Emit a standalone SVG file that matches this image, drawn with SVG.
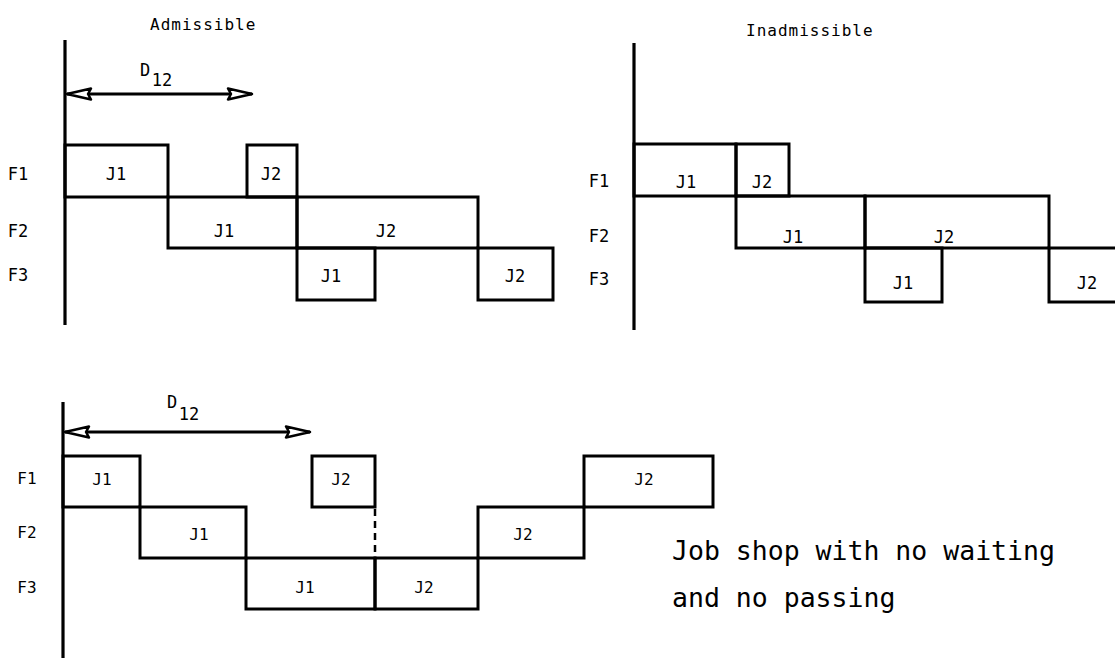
<svg xmlns="http://www.w3.org/2000/svg" width="1115" height="658" viewBox="0 0 1115 658">
<style>
.bar{fill:none;stroke:#000;stroke-width:3;stroke-linejoin:miter}
.axis{stroke:#000;stroke-width:3.2;fill:none}
.t{font-family:"DejaVu Sans Mono","Liberation Mono",monospace;font-size:17px;fill:#000;text-anchor:middle}
.ts{font-family:"DejaVu Sans Mono","Liberation Mono",monospace;font-size:16px;fill:#000;text-anchor:middle}
.ttl{font-family:"DejaVu Sans Mono","Liberation Mono",monospace;font-size:16px;letter-spacing:1px;fill:#000}
.big{font-family:"DejaVu Sans Mono","Liberation Mono",monospace;font-size:26.5px;fill:#000}
.arrow{stroke:#000;stroke-width:3;fill:none}
.dash{stroke:#000;stroke-width:2.5;stroke-dasharray:7 5;fill:none}
</style>
<defs>
<marker id="ah" markerUnits="userSpaceOnUse" markerWidth="32" markerHeight="18" viewBox="-30 -9 32 18" refX="0" refY="0" orient="auto-start-reverse">
<path d="M0,0 L-24,-5.5 L-21,0 L-24,5.5 Z" fill="#fff" stroke="#000" stroke-width="2.5" stroke-linejoin="round"/>
</marker>
</defs>

<!-- Chart A: Admissible -->
<g id="chartA">
<text class="ttl" x="150" y="30">Admissible</text>
<line class="axis" x1="65" y1="40" x2="65" y2="325"/>
<text class="t" x="18" y="180">F1</text>
<text class="t" x="18" y="237">F2</text>
<text class="t" x="18" y="281">F3</text>
<g id="A-F1-J1"><rect class="bar" x="65" y="145" width="103" height="52"/><text class="t" x="116" y="180">J1</text></g>
<g id="A-F1-J2"><rect class="bar" x="247" y="145" width="50" height="52"/><text class="t" x="271" y="180">J2</text></g>
<g id="A-F2-J1"><rect class="bar" x="168" y="197" width="129" height="51"/><text class="t" x="224" y="237">J1</text></g>
<g id="A-F2-J2"><rect class="bar" x="297" y="197" width="181" height="51"/><text class="t" x="386" y="237">J2</text></g>
<g id="A-F3-J1"><rect class="bar" x="297" y="248" width="78" height="52"/><text class="t" x="331" y="282">J1</text></g>
<g id="A-F3-J2"><rect class="bar" x="478" y="248" width="75" height="52"/><text class="t" x="515" y="282">J2</text></g>
<g id="A-D12"><text class="t" x="145" y="76" font-size="14">D</text><text class="t" x="162" y="86">12</text></g>
</g>

<!-- Chart B: Inadmissible -->
<g id="chartB">
<text class="ttl" x="746" y="36">Inadmissible</text>
<line class="axis" x1="634" y1="43" x2="634" y2="330"/>
<text class="t" x="599" y="187">F1</text>
<text class="t" x="599" y="242">F2</text>
<text class="t" x="599" y="285">F3</text>
<g id="B-F1-J1"><rect class="bar" x="634" y="144" width="102" height="52"/><text class="t" x="686" y="188">J1</text></g>
<g id="B-F1-J2"><rect class="bar" x="736" y="144" width="53" height="52"/><text class="t" x="762" y="188">J2</text></g>
<g id="B-F2-J1"><rect class="bar" x="736" y="196" width="129" height="52"/><text class="t" x="793" y="243">J1</text></g>
<g id="B-F2-J2"><rect class="bar" x="865" y="196" width="184" height="52"/><text class="t" x="944" y="243">J2</text></g>
<g id="B-F3-J1"><rect class="bar" x="865" y="248" width="77" height="54"/><text class="t" x="903" y="289">J1</text></g>
<g id="B-F3-J2"><rect class="bar" x="1049" y="248" width="80" height="54"/><text class="t" x="1087" y="289">J2</text></g>
</g>

<!-- Chart C: Job shop -->
<g id="chartC">
<line class="axis" x1="63" y1="402" x2="63" y2="658"/>
<text class="ts" x="27" y="484">F1</text>
<text class="ts" x="27" y="538">F2</text>
<text class="ts" x="27" y="593">F3</text>
<g id="C-F1-J1"><rect class="bar" x="63" y="456" width="77" height="51"/><text class="ts" x="102" y="485">J1</text></g>
<g id="C-F1-J2a"><rect class="bar" x="312" y="456" width="63" height="51"/><text class="ts" x="341" y="485">J2</text></g>
<g id="C-F1-J2b"><rect class="bar" x="584" y="456" width="129" height="51"/><text class="ts" x="644" y="485">J2</text></g>
<g id="C-F2-J1"><rect class="bar" x="140" y="507" width="106" height="51"/><text class="ts" x="199" y="540">J1</text></g>
<g id="C-F2-J2"><rect class="bar" x="478" y="507" width="106" height="51"/><text class="ts" x="523" y="540">J2</text></g>
<g id="C-F3-J1"><rect class="bar" x="246" y="558" width="129" height="51"/><text class="ts" x="305" y="593">J1</text></g>
<g id="C-F3-J2"><rect class="bar" x="375" y="558" width="103" height="51"/><text class="ts" x="424" y="593">J2</text></g>
<g id="C-D12"><text class="t" x="172" y="408" font-size="14">D</text><text class="t" x="189" y="420">12</text></g>
<g id="caption">
<text class="big" x="672" y="560">Job shop with no waiting</text>
<text class="big" x="672" y="607">and no passing</text>
</g>
</g>

<g id="connectors">
<line class="arrow" x1="67" y1="94" x2="252" y2="94" marker-start="url(#ah)" marker-end="url(#ah)"/>
<line class="arrow" x1="65" y1="432" x2="310" y2="432" marker-start="url(#ah)" marker-end="url(#ah)"/>
<line class="dash" x1="375" y1="509" x2="375" y2="556"/>
</g>
</svg>
